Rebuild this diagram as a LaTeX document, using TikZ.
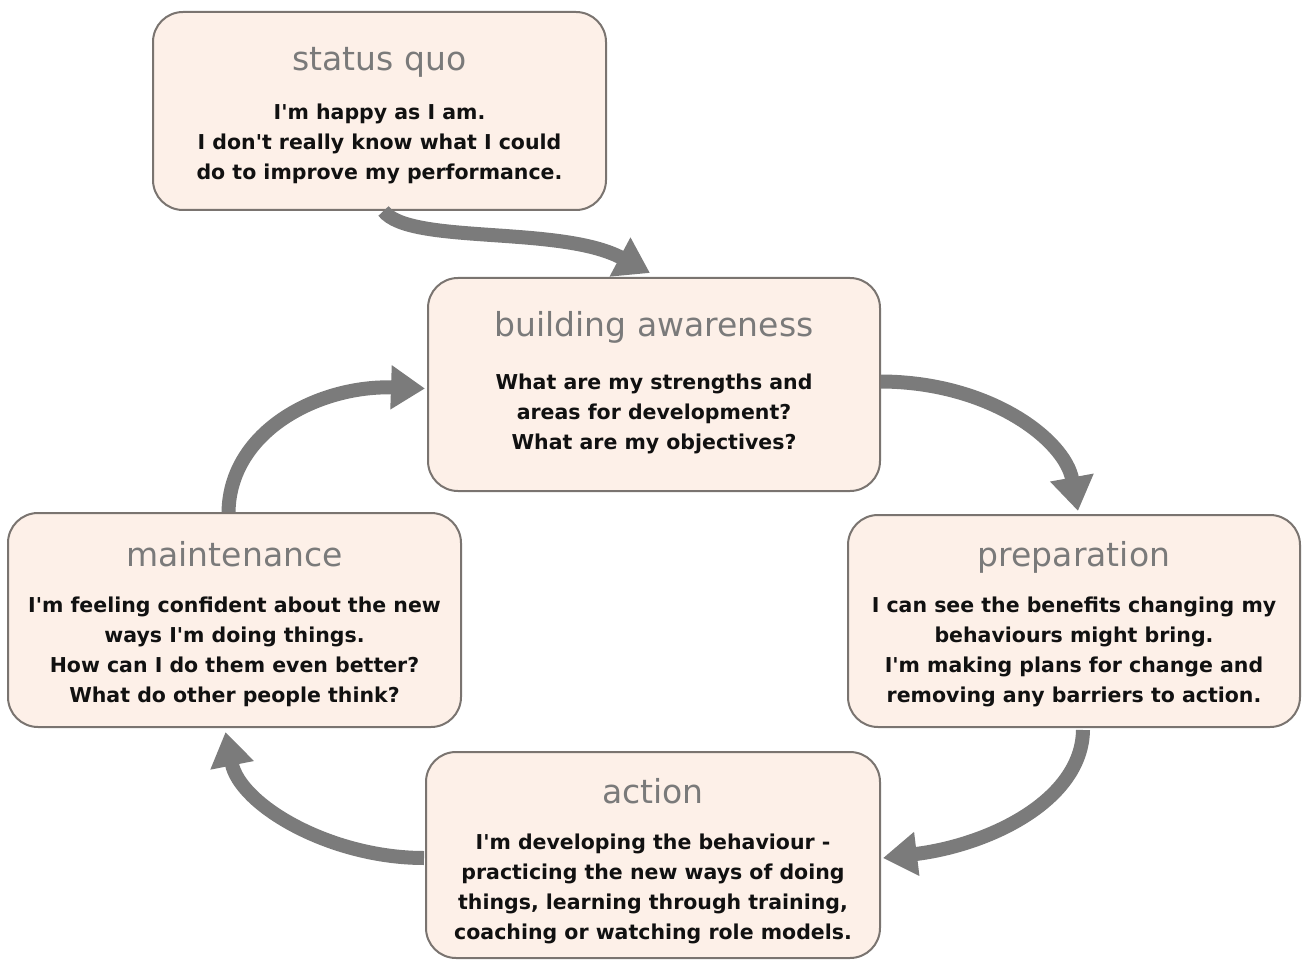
\documentclass[tikz,border=0pt]{standalone}
\usepackage{fontspec}
\setmainfont{DejaVu Sans}
\usetikzlibrary{arrows.meta}
\definecolor{boxfill}{HTML}{FDF0E8}
\definecolor{boxline}{HTML}{7A7470}
\definecolor{titlecol}{HTML}{7A7A7A}
\definecolor{arrowcol}{HTML}{7B7B7B}
\definecolor{bodycol}{HTML}{111111}
\newcommand{\ap}{\textquotesingle}
\tikzset{
  stagebox/.style={draw=boxline, line width=2pt, fill=boxfill, rounded corners=30pt, inner sep=0pt},
  stagetitle/.style={text=titlecol, font=\fontsize{33}{38}\selectfont, inner sep=0pt, anchor=base},
  stagebody/.style={text=bodycol, font=\fontsize{20.5}{30}\selectfont\bfseries, align=center, inner sep=0pt, anchor=north},
  cyclearrow/.style={draw=arrowcol, line width=14pt, -{Triangle[width=42pt,length=34pt]}}
}
\begin{document}
\begin{tikzpicture}[x=1pt,y=-1pt]
\useasboundingbox (0,0) rectangle (1302,960);
% boxes
\node[stagebox, minimum width=453pt, minimum height=198pt] (sq) at (379.5,111) {};
\node[stagebox, minimum width=452pt, minimum height=213pt] (ba) at (654,384.5) {};
\node[stagebox, minimum width=452pt, minimum height=212pt] (pr) at (1074,621) {};
\node[stagebox, minimum width=453pt, minimum height=214pt] (ma) at (234.5,620) {};
\node[stagebox, minimum width=454pt, minimum height=206pt] (ac) at (653,855) {};
% titles
\node[stagetitle] (sqt) at (379.5,71) {status quo};
\node[stagetitle] (bat) at (654,337) {building awareness};
\node[stagetitle] (prt) at (1074,566) {preparation};
\node[stagetitle] (mat) at (234.5,566) {maintenance};
\node[stagetitle] (act) at (653,803) {action};
% bodies
\node[stagebody] (sqb) at (379.5,104) {I\ap m happy as I am.\\I don\ap t really know what I could\\do to improve my performance.};
\node[stagebody] (bab) at (654,374) {What are my strengths and\\areas for development?\\What are my objectives?};
\node[stagebody] (prb) at (1074,597) {I can see the benefits changing my\\behaviours might bring.\\I\ap m making plans for change and\\removing any barriers to action.};
\node[stagebody] (mab) at (234.5,597) {I\ap m feeling confident about the new\\ways I\ap m doing things.\\How can I do them even better?\\What do other people think?};
\node[stagebody] (acb) at (653,834) {I\ap m developing the behaviour -\\practicing the new ways of doing\\things, learning through training,\\coaching or watching role models.};
% arrow end points
\coordinate (a1s) at ([xshift=4pt]sq.south);
\coordinate (a1e) at ([xshift=-4pt,yshift=4pt]ba.north);
\coordinate (a2s) at ([yshift=3pt]ba.east);
\coordinate (a2e) at ([xshift=4pt,yshift=3pt]pr.north);
\coordinate (a3s) at ([xshift=9pt,yshift=-2pt]pr.south);
\coordinate (a3e) at ([xshift=2pt,yshift=-3pt]ac.east);
\coordinate (a4s) at ([xshift=-1pt,yshift=-3pt]ac.west);
\coordinate (a4e) at ([xshift=-9pt,yshift=-4pt]ma.south);
\coordinate (a5s) at ([xshift=-6pt]ma.north);
\coordinate (a5e) at ([xshift=-2pt,yshift=-4pt]ba.west);
% arrows
\draw[cyclearrow] (a1s) .. controls (410,245) and (560,225) .. (a1e);
\draw[cyclearrow] (a2s) .. controls (990,382) and (1065,440) .. (a2e);
\draw[cyclearrow] (a3s) .. controls (1082,800) and (990,845) .. (a3e);
\draw[cyclearrow] (a4s) .. controls (330,858) and (240,805) .. (a4e);
\draw[cyclearrow] (a5s) .. controls (230,430) and (320,385) .. (a5e);
\end{tikzpicture}
\end{document}
